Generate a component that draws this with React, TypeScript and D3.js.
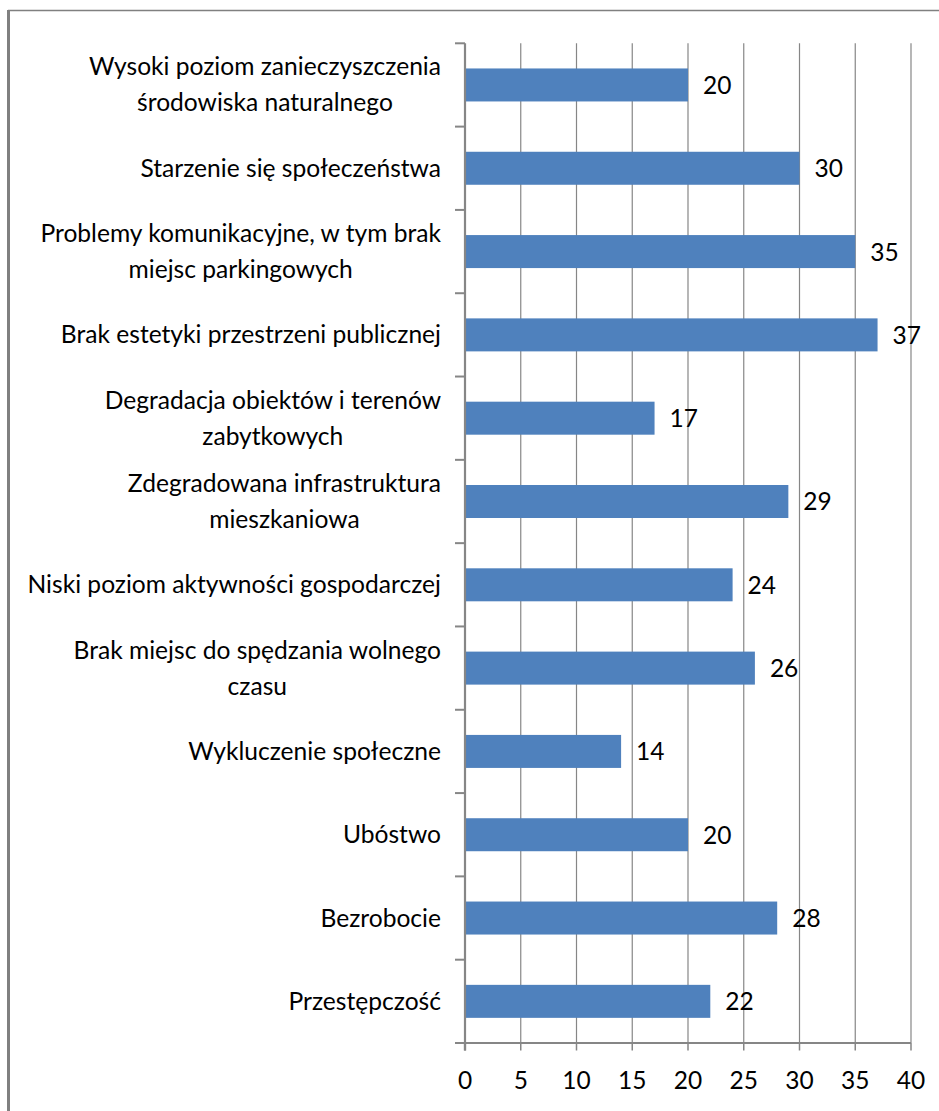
import React, { useEffect, useRef } from "react";
import * as d3 from "d3";

const categories: string[][] = [
  ["Wysoki poziom zanieczyszczenia", "środowiska naturalnego"],
  ["Starzenie się społeczeństwa"],
  ["Problemy komunikacyjne, w tym brak", "miejsc parkingowych"],
  ["Brak estetyki przestrzeni publicznej"],
  ["Degradacja obiektów i terenów", "zabytkowych"],
  ["Zdegradowana infrastruktura", "mieszkaniowa"],
  ["Niski poziom aktywności gospodarczej"],
  ["Brak miejsc do spędzania wolnego", "czasu"],
  ["Wykluczenie społeczne"],
  ["Ubóstwo"],
  ["Bezrobocie"],
  ["Przestępczość"],
];
const values: number[] = [20, 30, 35, 37, 17, 29, 24, 26, 14, 20, 28, 22];
const xTicks: number[] = [0, 5, 10, 15, 20, 25, 30, 35, 40];

const W = 939;
const H = 1111;
const FONT = "Lato, 'Open Sans', sans-serif";

export default function App() {
  const ref = useRef<SVGSVGElement>(null);

  useEffect(() => {
    const svg = d3.select(ref.current);
    svg.selectAll("*").remove();

    const top = 43.3;
    const bottom = 1043;
    const x = d3.scaleLinear().domain([0, 40]).range([465, 911]);
    const y = d3
      .scaleBand<number>()
      .domain(d3.range(categories.length))
      .range([top, bottom]);
    const bandH = y.bandwidth();
    const barH = 33;
    const grid = "#868686";

    // frame
    svg.append("line").attr("x1", 8).attr("x2", W).attr("y1", 10.5).attr("y2", 10.5)
      .attr("stroke", "#808080").attr("stroke-width", 1.5);
    svg.append("line").attr("x1", 8.5).attr("x2", 8.5).attr("y1", 10).attr("y2", H)
      .attr("stroke", "#808080").attr("stroke-width", 3);

    // gridlines
    svg.append("g").selectAll("line").data(xTicks.slice(1)).join("line")
      .attr("x1", (d) => x(d)).attr("x2", (d) => x(d))
      .attr("y1", top).attr("y2", bottom)
      .attr("stroke", grid).attr("stroke-width", 1.2);

    // bars
    svg.append("g").selectAll("rect").data(values).join("rect")
      .attr("x", x(0))
      .attr("y", (_, i) => (y(i) as number) + bandH / 2 - barH / 2)
      .attr("width", (d) => x(d) - x(0))
      .attr("height", barH)
      .attr("fill", "#4F81BD");

    // x axis line + ticks
    svg.append("line").attr("x1", 455).attr("x2", x(40)).attr("y1", bottom).attr("y2", bottom)
      .attr("stroke", grid).attr("stroke-width", 2);
    svg.append("g").selectAll("line").data(xTicks).join("line")
      .attr("x1", (d) => x(d)).attr("x2", (d) => x(d))
      .attr("y1", bottom).attr("y2", 1050.5)
      .attr("stroke", grid).attr("stroke-width", (d) => (d === 0 ? 2.2 : 1.5));
    svg.append("g").selectAll("text").data(xTicks).join("text")
      .attr("x", (d) => x(d)).attr("y", 1089)
      .attr("text-anchor", "middle")
      .attr("font-family", FONT).attr("font-size", 24.5).attr("fill", "#000")
      .text((d) => String(d));

    // y axis line + ticks
    svg.append("line").attr("x1", x(0)).attr("x2", x(0)).attr("y1", top).attr("y2", 1050.5)
      .attr("stroke", grid).attr("stroke-width", 2.2);
    svg.append("g").selectAll("line").data(d3.range(categories.length + 1)).join("line")
      .attr("x1", 455).attr("x2", x(0))
      .attr("y1", (i) => top + i * bandH).attr("y2", (i) => top + i * bandH)
      .attr("stroke", grid).attr("stroke-width", 2);

    // value labels
    svg.append("g").selectAll("text").data(values).join("text")
      .attr("x", (d) => x(d) + 15)
      .attr("y", (_, i) => (y(i) as number) + bandH / 2 + 9)
      .attr("font-family", FONT).attr("font-size", 24.5).attr("fill", "#000")
      .text((d) => String(d));

    // category labels (centered block, right edge at 441)
    const lineH = 36;
    categories.forEach((lines, i) => {
      const cy = (y(i) as number) + bandH / 2;
      const g = svg.append("g");
      const texts = lines.map((ln, j) =>
        g.append("text")
          .attr("y", cy + (j - (lines.length - 1) / 2) * lineH + 8.5)
          .attr("font-family", FONT).attr("font-size", 24.6).attr("fill", "#000")
          .attr("text-anchor", "middle")
          .text(ln)
      );
      const widths = texts.map((t) => (t.node() as SVGTextElement).getComputedTextLength());
      const maxW = Math.max(...widths);
      const cx = 441 - maxW / 2;
      texts.forEach((t) => t.attr("x", cx));
    });
  }, []);

  return (
    <svg
      ref={ref}
      width={W}
      height={H}
      style={{ position: "absolute", left: 0, top: 0, background: "#fff" }}
    />
  );
}
